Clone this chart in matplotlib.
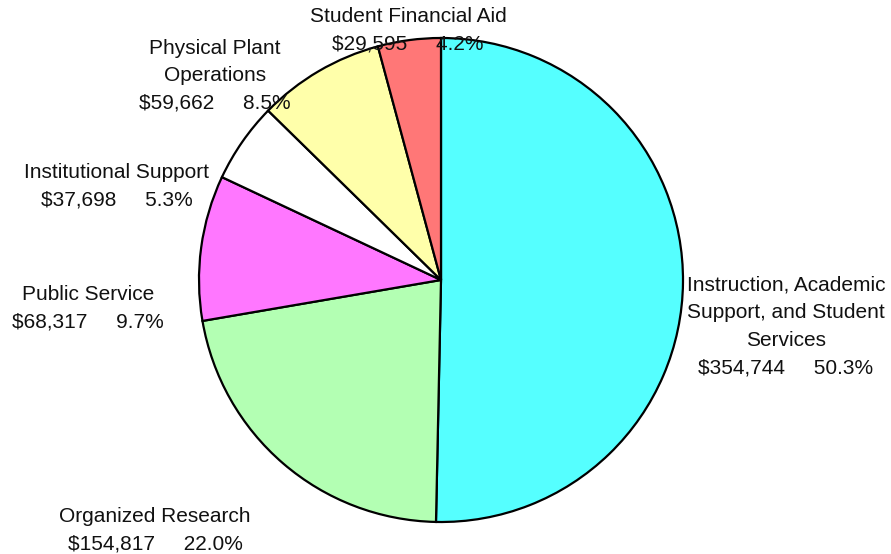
import matplotlib
matplotlib.use("Agg")
import matplotlib.pyplot as plt

categories = ["Instruction, Academic\nSupport, and Student\nServices", "Organized Research",
              "Public Service", "Institutional Support", "Physical Plant\nOperations",
              "Student Financial Aid"]
amounts = [354744, 154817, 68317, 37698, 59662, 29595]
colors = ["#55FFFF", "#B3FFB3", "#FF77FF", "#FFFFFF", "#FFFFAA", "#FF7777"]

# label centre positions in pixels (x, y of first line from top)
label_pos = [(786, 285), (155, 516), (88, 295), (117, 172), (215, 48), (408, 16)]

W, H = 891, 554
fig = plt.figure(figsize=(W / 100, H / 100), dpi=100)
ax = fig.add_axes([0, 0, 1, 1])

ax.pie(amounts, colors=colors, startangle=90, counterclock=False,
       center=(441, H - 280), radius=242,
       wedgeprops=dict(edgecolor="black", linewidth=1.6))
ax.set_xlim(0, W)
ax.set_ylim(0, H)
ax.set_aspect("auto")
ax.axis("off")

total = sum(amounts)
for cat, amt, (x, y) in zip(categories, amounts, label_pos):
    pct = 100 * amt / total
    lines = cat.split("\n") + [f"${amt:,}     {pct:.1f}%"]
    for i, line in enumerate(lines):
        ax.text(x, H - (y + i * 27.5), line, ha="center", va="center",
                fontsize=15, family="Liberation Sans", color="#111111")

fig.savefig("out.png", dpi=100)
